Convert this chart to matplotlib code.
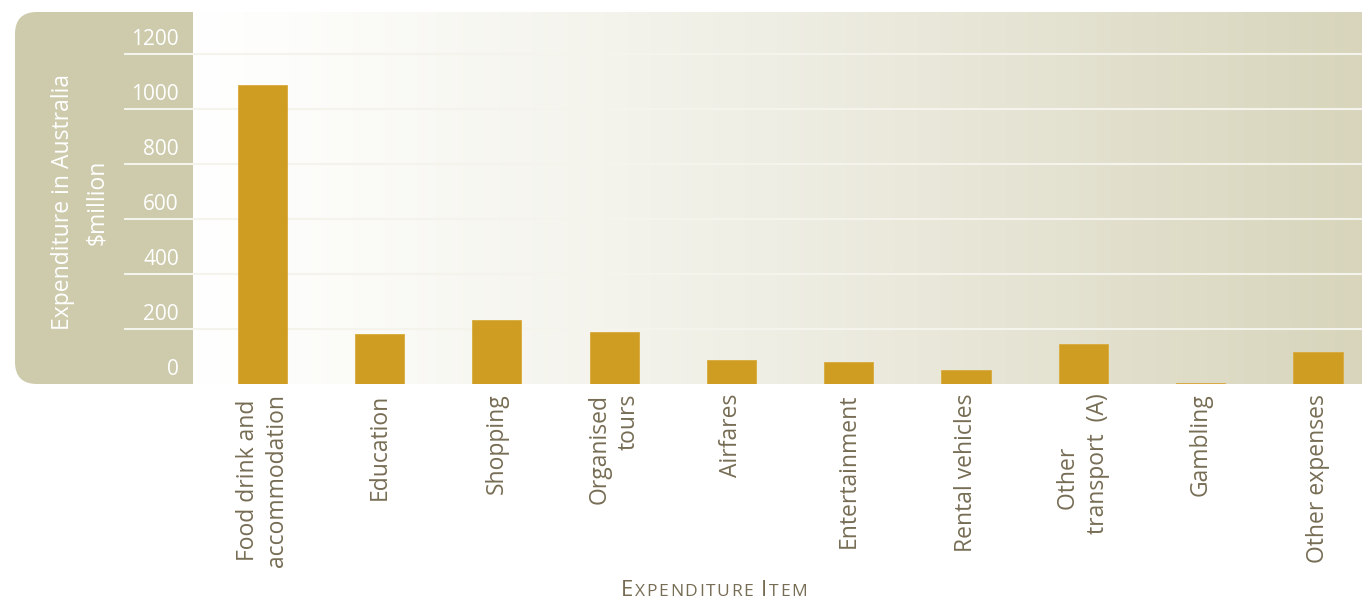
import numpy as np
import matplotlib
matplotlib.use("Agg")
import matplotlib.pyplot as plt
from matplotlib.colors import LinearSegmentedColormap
from matplotlib.patches import FancyBboxPatch
from matplotlib.transforms import IdentityTransform, blended_transform_factory, offset_copy
from matplotlib.offsetbox import TextArea, HPacker, AnchoredOffsetbox

# ---- data ----
categories = ["Food drink and \naccommodation", "Education", "Shopping", "Organised\ntours",
              "Airfares", "Entertainment", "Rental vehicles", "Other     \ntransport  (A)",
              "Gambling", "Other expenses"]
label_align = ["right", "center", "center", "right", "center", "center", "center",
               "center", "center", "center"]
values = [1087, 182, 233, 188, 87, 80, 51, 145, 5, 116]
yticks = [0, 200, 400, 600, 800, 1000, 1200]

plt.rcParams['font.family'] = ['Open Sans', 'DejaVu Sans']

W, H = 1362, 600
fig = plt.figure(figsize=(W / 100, H / 100), dpi=100)
fig.patch.set_facecolor("white")

# left rounded panel (pixel coordinates)
panel = FancyBboxPatch((15, H - 384), 260, 372, boxstyle="round,pad=0,rounding_size=22",
                       transform=IdentityTransform(), facecolor="#cdcbac", edgecolor="none",
                       zorder=-5)
fig.patches.append(panel)

ax = fig.add_axes([193 / W, (H - 384) / H, (W - 193) / W, (384 - 12) / H])
ax.set_zorder(1)

# gradient background
cmap = LinearSegmentedColormap.from_list("bg", [(0, "#ffffff"), (0.08, "#fdfdfb"),
                                                (0.5, "#efeee4"), (1, "#d8d5bc")])
ax.imshow(np.linspace(0, 1, 512).reshape(1, -1), cmap=cmap, aspect="auto",
          extent=[0, 1, 0, 1], transform=ax.transAxes, zorder=0)

x = np.arange(len(values))
ax.bar(x, values, width=0.42, color="#cf9d21", edgecolor="#d8aa3c", linewidth=0.6, zorder=3)

ax.set_xlim(-0.59, 9.375)
ax.set_ylim(0, 1352)

# gridlines extending into the panel
bt = blended_transform_factory(ax.transAxes, ax.transData)
x0 = (125 - 193) / (W - 193)
for v in yticks[1:]:
    ax.plot([x0, 1], [v, v], transform=bt, color="#f5f4ec", lw=1.5, clip_on=False, zorder=1)

# y tick labels placed above the gridlines
lab_t = offset_copy(bt, fig=fig, x=0, y=4, units="dots")
xl = (179 - 193) / (W - 193)
for v in yticks:
    ax.text(xl, v, str(v), transform=lab_t, ha="right", va="bottom", color="white",
            fontsize=15)

for s in ax.spines.values():
    s.set_visible(False)
ax.set_yticks([])
ax.set_xticks(x)
ax.set_xticklabels(categories, rotation=90, ha="center", va="top", fontsize=16.5,
                   color="#776d55", linespacing=1.3)
for t, a in zip(ax.get_xticklabels(), label_align):
    t.set_multialignment(a)
ax.tick_params(axis="x", length=0, pad=7)

# y label
fig.text(80 / W, 1 - 202 / H, "Expenditure in Australia\n$million", rotation=90,
         ha="center", va="center", color="white", fontsize=16.5, linespacing=1.55,
         multialignment="center")

# x axis title in small caps
col = "#776d55"
parts = [("E", 16), ("XPENDITURE", 12.5), (" ", 12.5), ("I", 16), ("TEM", 12.5)]
areas = []
for t, s in parts:
    for ch in t:
        areas.append(TextArea(ch, textprops=dict(fontsize=s, color=col)))
box = HPacker(children=areas, align="baseline", pad=0, sep=1.2)
anch = AnchoredOffsetbox(loc="center", child=box, frameon=False, pad=0,
                         bbox_to_anchor=(714 / W, 1 - 590 / H),
                         bbox_transform=fig.transFigure, borderpad=0)
fig.add_artist(anch)

fig.savefig("out.png", dpi=100)
